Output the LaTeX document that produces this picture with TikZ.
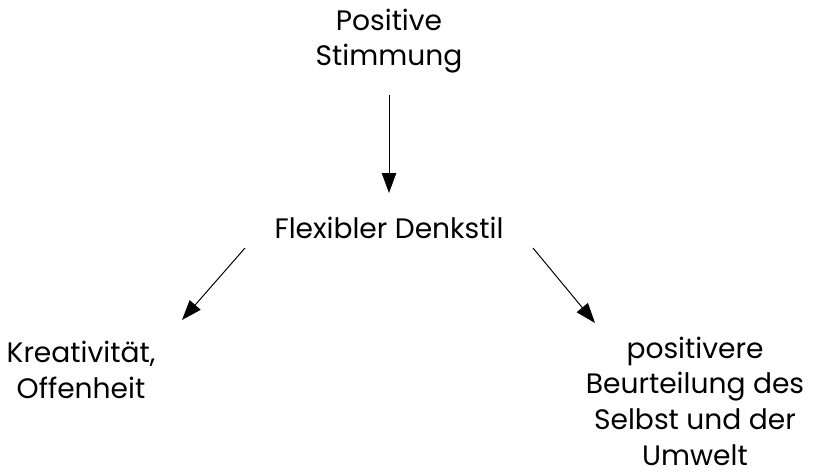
\documentclass[tikz,border=0pt]{standalone}
\usepackage{fontspec}
\setmainfont{Poppins}
\usetikzlibrary{arrows.meta,positioning}

\begin{document}
\begin{tikzpicture}[x=0.025cm, y=-0.025cm,
  font=\fontsize{20}{25.4}\selectfont,
  txt/.style={align=center, inner sep=0pt},
  arr/.style={-{Triangle[length=5mm,width=3.6mm]}, line width=0.7pt}]
\useasboundingbox (0,0) rectangle (820,475);
\node[txt] (stim) at (389,41) {Positive\\Stimmung};
\node[txt] (flex) at (389,228) {Flexibler Denkstil};
\node[txt] (krea) at (81,370) {Kreativität,\\Offenheit};
\node[txt] (beur) at (695,401) {positivere\\Beurteilung des\\Selbst und der\\Umwelt};
\coordinate (fl) at (245,248);
\coordinate (fr) at (533,248);
\coordinate (kr) at (182,320);
\coordinate (bl) at (595,323);
\draw[arr] (stim.south |- 0,95) -- (flex.north |- 0,193);
\draw[arr] (fl) -- (kr);
\draw[arr] (fr) -- (bl);
\end{tikzpicture}
\end{document}
